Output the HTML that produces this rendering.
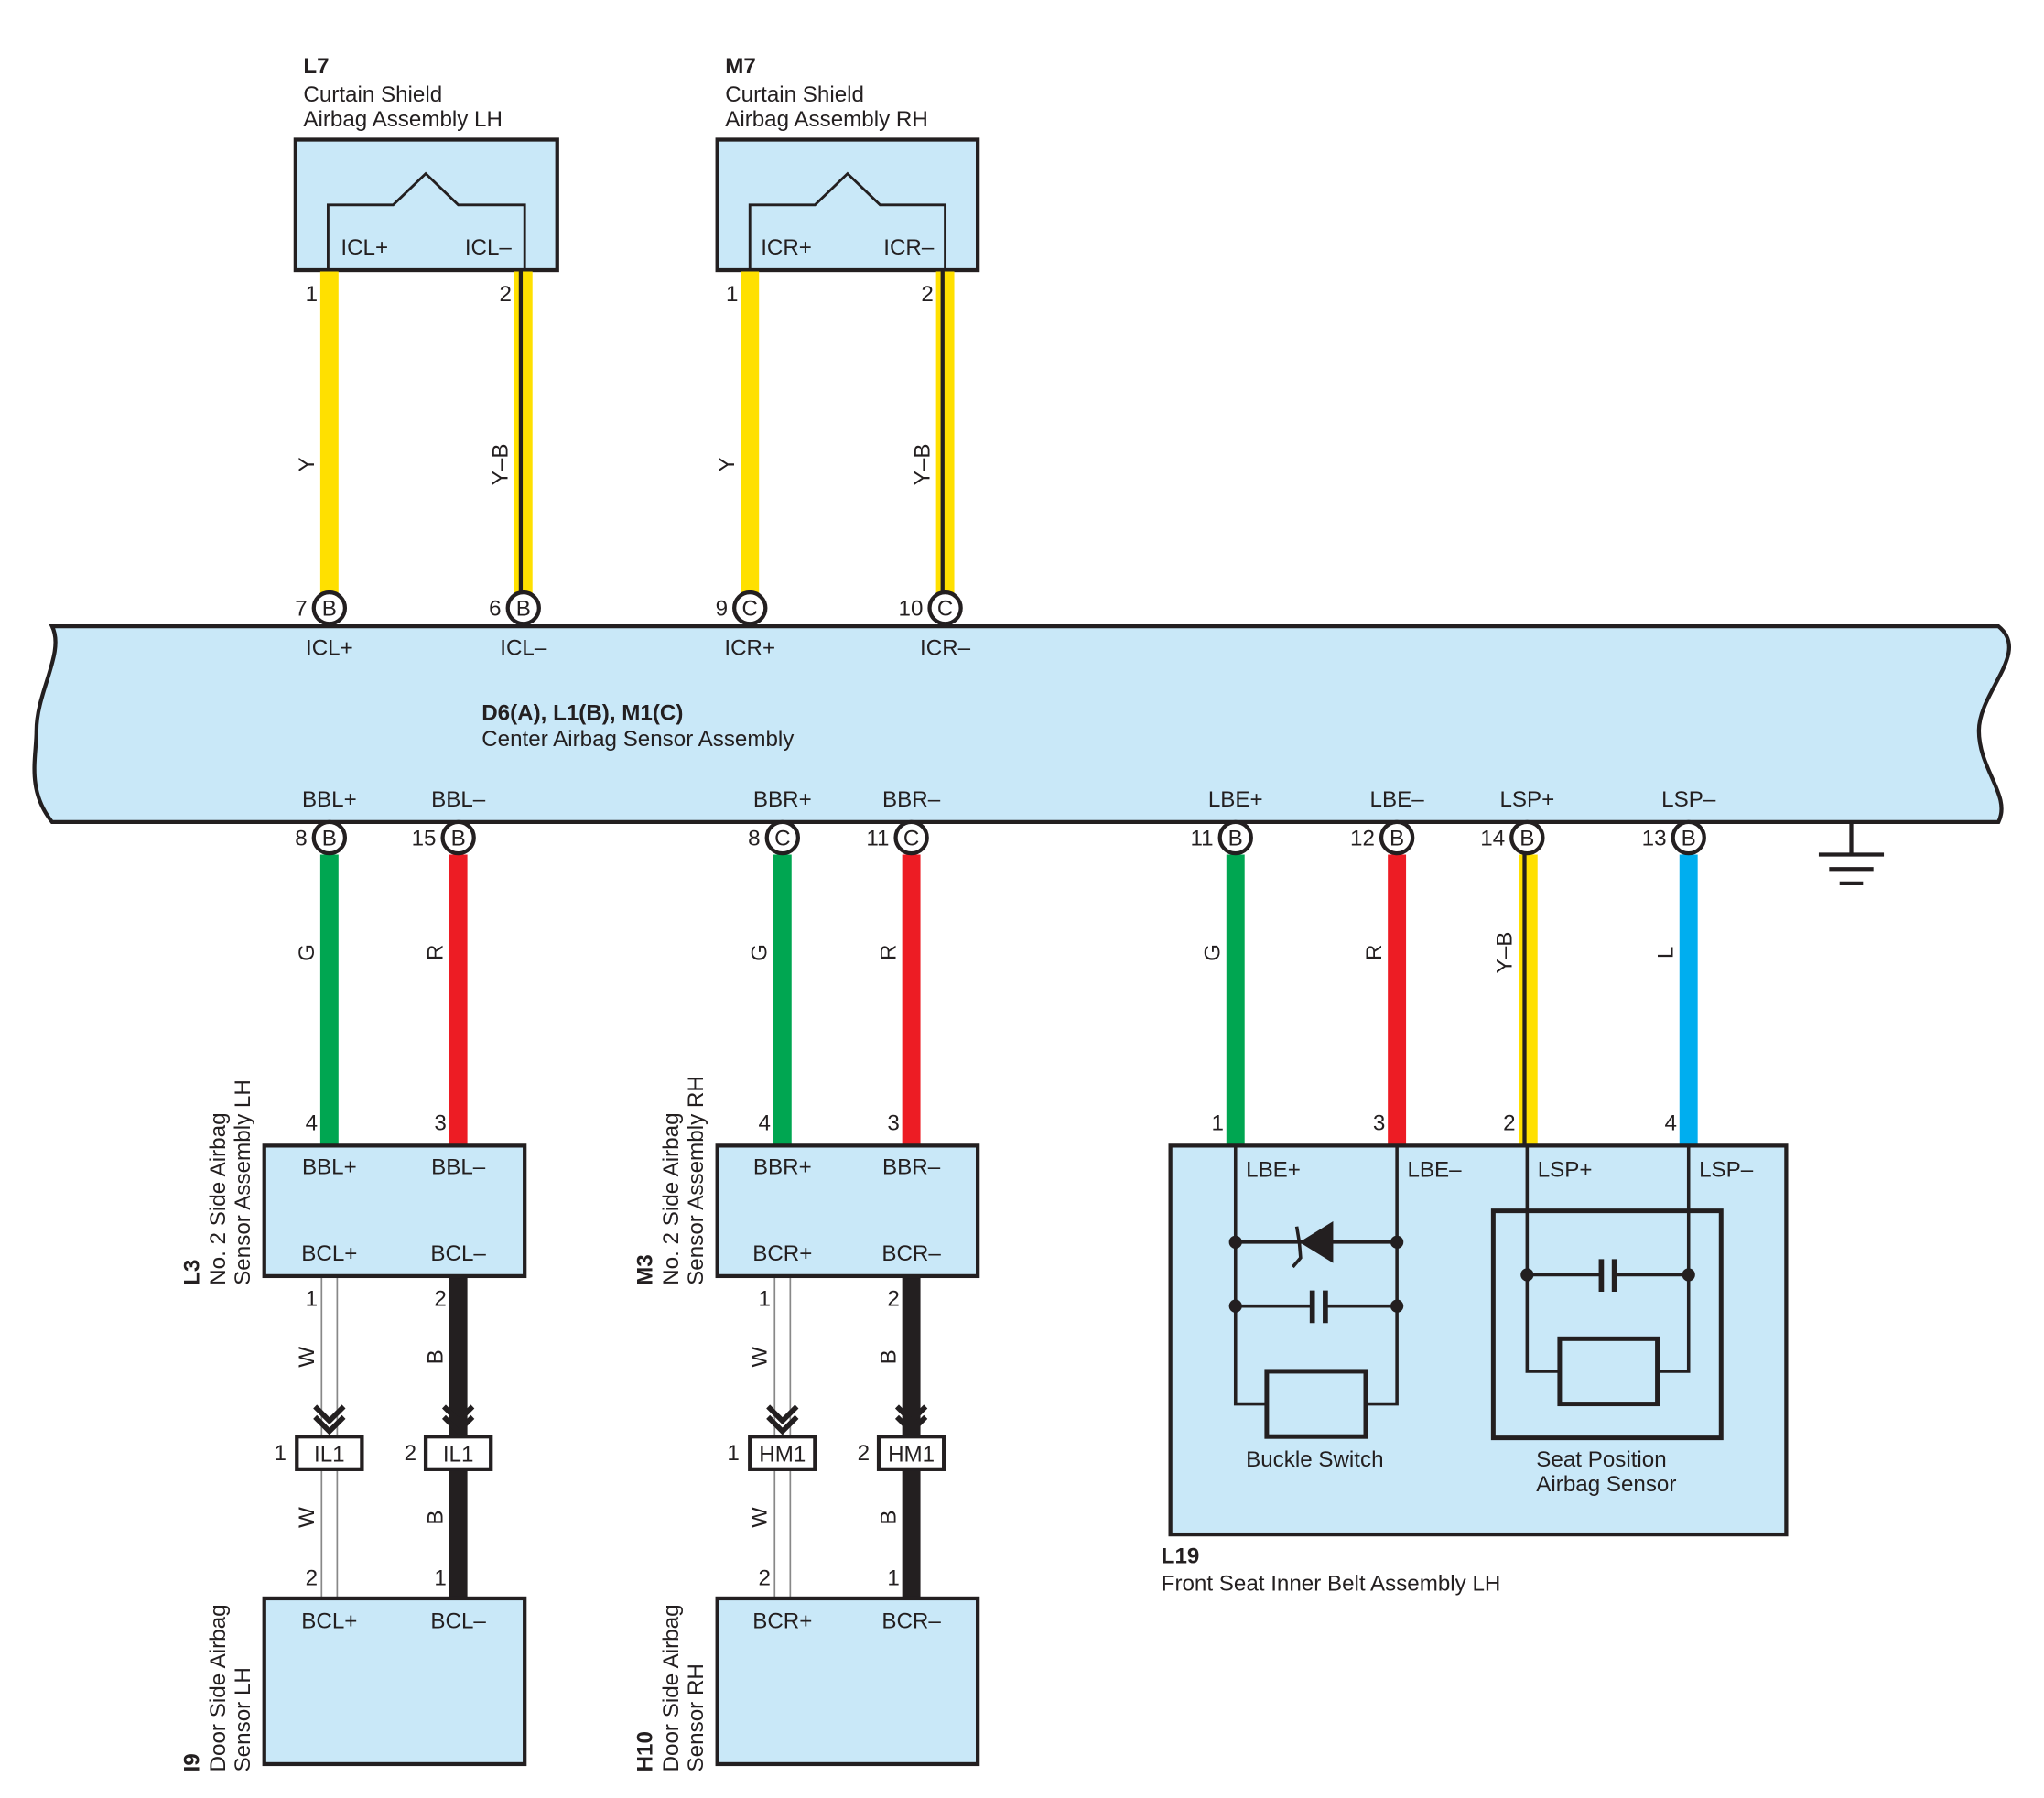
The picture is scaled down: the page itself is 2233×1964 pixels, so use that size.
<!DOCTYPE html>
<html><head><meta charset="utf-8"><style>html,body{margin:0;padding:0;background:#fff}svg{display:block}text{font-family:"Liberation Sans",sans-serif;font-size:17px;fill:#231f20}</style></head><body>
<svg width="2233" height="1964" viewBox="0 0 1570 1378" preserveAspectRatio="none" xmlns="http://www.w3.org/2000/svg">
<defs>
<g id="chev"><path d="M-11,-14 L0,-3 L11,-14 M-11,-6 L0,5 L11,-6" fill="none" stroke="#231f20" stroke-width="4"/></g>
</defs>
<text x="233" y="56" font-weight="bold">L7</text>
<text x="233" y="78">Curtain Shield</text>
<text x="233" y="97">Airbag Assembly LH</text>
<text x="557" y="56" font-weight="bold">M7</text>
<text x="557" y="78">Curtain Shield</text>
<text x="557" y="97">Airbag Assembly RH</text>
<rect x="227" y="107" width="201" height="100" fill="#c9e8f8" stroke="#231f20" stroke-width="3"/>
<path d="M252,207 V157 H302 L327,133 L352,157 H403 V207" fill="none" stroke="#231f20" stroke-width="2"/>
<text x="280" y="195" text-anchor="middle">ICL+</text><text x="375" y="195" text-anchor="middle">ICL–</text>
<rect x="551" y="107" width="200" height="100" fill="#c9e8f8" stroke="#231f20" stroke-width="3"/>
<path d="M576,207 V157 H626 L651,133 L676,157 H726 V207" fill="none" stroke="#231f20" stroke-width="2"/>
<text x="604" y="195" text-anchor="middle">ICR+</text><text x="698" y="195" text-anchor="middle">ICR–</text>
<line x1="253" y1="208" x2="253" y2="455" stroke="#ffe000" stroke-width="14"/>
<line x1="402" y1="208" x2="402" y2="455" stroke="#ffe000" stroke-width="14"/>
<line x1="400" y1="208" x2="400" y2="455" stroke="#231f20" stroke-width="3"/>
<line x1="576" y1="208" x2="576" y2="455" stroke="#ffe000" stroke-width="14"/>
<line x1="726" y1="208" x2="726" y2="455" stroke="#ffe000" stroke-width="14"/>
<line x1="724" y1="208" x2="724" y2="455" stroke="#231f20" stroke-width="3"/>
<text x="244" y="231" text-anchor="end">1</text><text x="393" y="231" text-anchor="end">2</text>
<text x="567" y="231" text-anchor="end">1</text><text x="717" y="231" text-anchor="end">2</text>
<text transform="translate(241,356) rotate(-90)" text-anchor="middle">Y</text>
<text transform="translate(390,356) rotate(-90)" text-anchor="middle">Y–B</text>
<text transform="translate(564,356) rotate(-90)" text-anchor="middle">Y</text>
<text transform="translate(714,356) rotate(-90)" text-anchor="middle">Y–B</text>
<path d="M40,480 H1535 C1560,500 1520,530 1520,560 C1520,590 1545,610 1535,630 H40 C20,605 28,580 28,560 C28,530 50,500 40,480 Z" fill="#c9e8f8" stroke="#231f20" stroke-width="3"/>
<g text-anchor="middle">
<text x="253" y="502">ICL+</text><text x="402" y="502">ICL–</text><text x="576" y="502">ICR+</text><text x="726" y="502">ICR–</text>
<text x="253" y="618">BBL+</text><text x="352" y="618">BBL–</text><text x="601" y="618">BBR+</text><text x="700" y="618">BBR–</text>
<text x="949" y="618">LBE+</text><text x="1073" y="618">LBE–</text><text x="1173" y="618">LSP+</text><text x="1297" y="618">LSP–</text>
</g>
<text x="370" y="552" font-weight="bold">D6(A), L1(B), M1(C)</text>
<text x="370" y="572">Center Airbag Sensor Assembly</text>
<path d="M1422,630 V655 M1397,655 H1447 M1405,666 H1439 M1413,677 H1431" stroke="#231f20" stroke-width="3" fill="none"/>
<line x1="253" y1="655" x2="253" y2="878" stroke="#00a651" stroke-width="14"/>
<line x1="352" y1="655" x2="352" y2="878" stroke="#ed1c24" stroke-width="14"/>
<line x1="601" y1="655" x2="601" y2="878" stroke="#00a651" stroke-width="14"/>
<line x1="700" y1="655" x2="700" y2="878" stroke="#ed1c24" stroke-width="14"/>
<line x1="949" y1="655" x2="949" y2="878" stroke="#00a651" stroke-width="14"/>
<line x1="1073" y1="655" x2="1073" y2="878" stroke="#ed1c24" stroke-width="14"/>
<line x1="1174" y1="655" x2="1174" y2="878" stroke="#ffe000" stroke-width="14"/>
<line x1="1171" y1="655" x2="1171" y2="878" stroke="#231f20" stroke-width="3"/>
<line x1="1297" y1="655" x2="1297" y2="878" stroke="#00aeef" stroke-width="14"/>
<g>
<text transform="translate(241,730) rotate(-90)" text-anchor="middle">G</text>
<text transform="translate(340,730) rotate(-90)" text-anchor="middle">R</text>
<text transform="translate(589,730) rotate(-90)" text-anchor="middle">G</text>
<text transform="translate(688,730) rotate(-90)" text-anchor="middle">R</text>
<text transform="translate(937,730) rotate(-90)" text-anchor="middle">G</text>
<text transform="translate(1061,730) rotate(-90)" text-anchor="middle">R</text>
<text transform="translate(1161,730) rotate(-90)" text-anchor="middle">Y–B</text>
<text transform="translate(1285,730) rotate(-90)" text-anchor="middle">L</text>
</g>
<g stroke="#231f20" stroke-width="3" fill="#fff">
<circle cx="253" cy="466" r="12"/><circle cx="402" cy="466" r="12"/><circle cx="576" cy="466" r="12"/><circle cx="726" cy="466" r="12"/>
<circle cx="253" cy="642" r="12"/><circle cx="352" cy="642" r="12"/><circle cx="601" cy="642" r="12"/><circle cx="700" cy="642" r="12"/>
<circle cx="949" cy="642" r="12"/><circle cx="1073" cy="642" r="12"/><circle cx="1173" cy="642" r="12"/><circle cx="1297" cy="642" r="12"/>
</g>
<g text-anchor="middle" style="font-size:15px">
<text x="253" y="472">B</text><text x="402" y="472">B</text><text x="576" y="472">C</text><text x="726" y="472">C</text>
<text x="253" y="648">B</text><text x="352" y="648">B</text><text x="601" y="648">C</text><text x="700" y="648">C</text>
<text x="949" y="648">B</text><text x="1073" y="648">B</text><text x="1173" y="648">B</text><text x="1297" y="648">B</text>
</g>
<g text-anchor="end">
<text x="236" y="472">7</text><text x="385" y="472">6</text><text x="559" y="472">9</text><text x="709" y="472">10</text>
<text x="236" y="648">8</text><text x="335" y="648">15</text><text x="584" y="648">8</text><text x="683" y="648">11</text>
<text x="932" y="648">11</text><text x="1056" y="648">12</text><text x="1156" y="648">14</text><text x="1280" y="648">13</text>
<text x="244" y="866">4</text><text x="343" y="866">3</text><text x="592" y="866">4</text><text x="691" y="866">3</text>
<text x="940" y="866">1</text><text x="1064" y="866">3</text><text x="1164" y="866">2</text><text x="1288" y="866">4</text>
<text x="244" y="1001">1</text><text x="343" y="1001">2</text><text x="592" y="1001">1</text><text x="691" y="1001">2</text>
<text x="220" y="1119">1</text><text x="320" y="1119">2</text><text x="568" y="1119">1</text><text x="668" y="1119">2</text>
<text x="244" y="1215">2</text><text x="343" y="1215">1</text><text x="592" y="1215">2</text><text x="691" y="1215">1</text>
</g>
<g>
<rect x="247" y="978" width="12" height="247" fill="#fff" stroke="#888" stroke-width="1.2"/>
<line x1="352" y1="978" x2="352" y2="1225" stroke="#231f20" stroke-width="14"/>
<rect x="595" y="978" width="12" height="247" fill="#fff" stroke="#888" stroke-width="1.2"/>
<line x1="700" y1="978" x2="700" y2="1225" stroke="#231f20" stroke-width="14"/>
</g>
<use href="#chev" x="253" y="1092"/><use href="#chev" x="352" y="1092"/><use href="#chev" x="601" y="1092"/><use href="#chev" x="700" y="1092"/>
<g fill="#fff" stroke="#231f20" stroke-width="3">
<rect x="228" y="1101" width="50" height="25"/><rect x="327" y="1101" width="50" height="25"/>
<rect x="576" y="1101" width="50" height="25"/><rect x="675" y="1101" width="50" height="25"/>
</g>
<g text-anchor="middle">
<text x="253" y="1120">IL1</text><text x="352" y="1120">IL1</text><text x="601" y="1120">HM1</text><text x="700" y="1120">HM1</text>
</g>
<g>
<text transform="translate(241,1040) rotate(-90)" text-anchor="middle">W</text>
<text transform="translate(340,1040) rotate(-90)" text-anchor="middle">B</text>
<text transform="translate(589,1040) rotate(-90)" text-anchor="middle">W</text>
<text transform="translate(688,1040) rotate(-90)" text-anchor="middle">B</text>
<text transform="translate(241,1163) rotate(-90)" text-anchor="middle">W</text>
<text transform="translate(340,1163) rotate(-90)" text-anchor="middle">B</text>
<text transform="translate(589,1163) rotate(-90)" text-anchor="middle">W</text>
<text transform="translate(688,1163) rotate(-90)" text-anchor="middle">B</text>
</g>
<g fill="#c9e8f8" stroke="#231f20" stroke-width="3">
<rect x="203" y="878" width="200" height="100"/><rect x="551" y="878" width="200" height="100"/>
<rect x="203" y="1225" width="200" height="127"/><rect x="551" y="1225" width="200" height="127"/>
<rect x="899" y="878" width="473" height="298"/>
</g>
<g text-anchor="middle">
<text x="253" y="900">BBL+</text><text x="352" y="900">BBL–</text><text x="253" y="966">BCL+</text><text x="352" y="966">BCL–</text>
<text x="601" y="900">BBR+</text><text x="700" y="900">BBR–</text><text x="601" y="966">BCR+</text><text x="700" y="966">BCR–</text>
<text x="253" y="1248">BCL+</text><text x="352" y="1248">BCL–</text><text x="601" y="1248">BCR+</text><text x="700" y="1248">BCR–</text>
</g>
<g>
<text transform="translate(153,985) rotate(-90)" font-weight="bold">L3</text>
<text transform="translate(173,985) rotate(-90)">No. 2 Side Airbag</text>
<text transform="translate(192,985) rotate(-90)">Sensor Assembly LH</text>
<text transform="translate(501,985) rotate(-90)" font-weight="bold">M3</text>
<text transform="translate(521,985) rotate(-90)">No. 2 Side Airbag</text>
<text transform="translate(540,985) rotate(-90)">Sensor Assembly RH</text>
<text transform="translate(153,1358) rotate(-90)" font-weight="bold">I9</text>
<text transform="translate(173,1358) rotate(-90)">Door Side Airbag</text>
<text transform="translate(192,1358) rotate(-90)">Sensor LH</text>
<text transform="translate(501,1358) rotate(-90)" font-weight="bold">H10</text>
<text transform="translate(521,1358) rotate(-90)">Door Side Airbag</text>
<text transform="translate(540,1358) rotate(-90)">Sensor RH</text>
</g>
<g fill="none" stroke="#231f20" stroke-width="2.5">
<path d="M949,878 V1076 H973 M1073,878 V1076 H1049"/>
<rect x="973" y="1051" width="76" height="50" stroke-width="3.5"/>
<path d="M949,952 H1073 M949,1001 H1008 M1018,1001 H1073"/>
<path d="M1008,989 V1014 M1018,989 V1014" stroke-width="4"/>
<rect x="1147" y="928" width="175" height="174" stroke-width="3.5"/>
<path d="M1173,878 V1051 H1198 M1297,878 V1051 H1273 M1173,977 H1230 M1240,977 H1297"/>
<path d="M1230,965 V990 M1240,965 V990" stroke-width="4"/>
<rect x="1198" y="1026" width="75" height="50" stroke-width="3.5"/>
<path d="M996,940 L998,952 L999,964 L993,971"/>
</g>
<path d="M998,952 L1024,936 L1024,968 Z" fill="#231f20"/>
<g fill="#231f20"><circle cx="949" cy="952" r="5"/><circle cx="1073" cy="952" r="5"/><circle cx="949" cy="1001" r="5"/><circle cx="1073" cy="1001" r="5"/><circle cx="1173" cy="977" r="5"/><circle cx="1297" cy="977" r="5"/></g>
<text x="957" y="902">LBE+</text><text x="1081" y="902">LBE–</text><text x="1181" y="902">LSP+</text><text x="1305" y="902">LSP–</text>
<text x="957" y="1124">Buckle Switch</text>
<text x="1180" y="1124">Seat Position</text><text x="1180" y="1143">Airbag Sensor</text>
<text x="892" y="1198" font-weight="bold">L19</text>
<text x="892" y="1219">Front Seat Inner Belt Assembly LH</text>
</svg>
</body></html>
